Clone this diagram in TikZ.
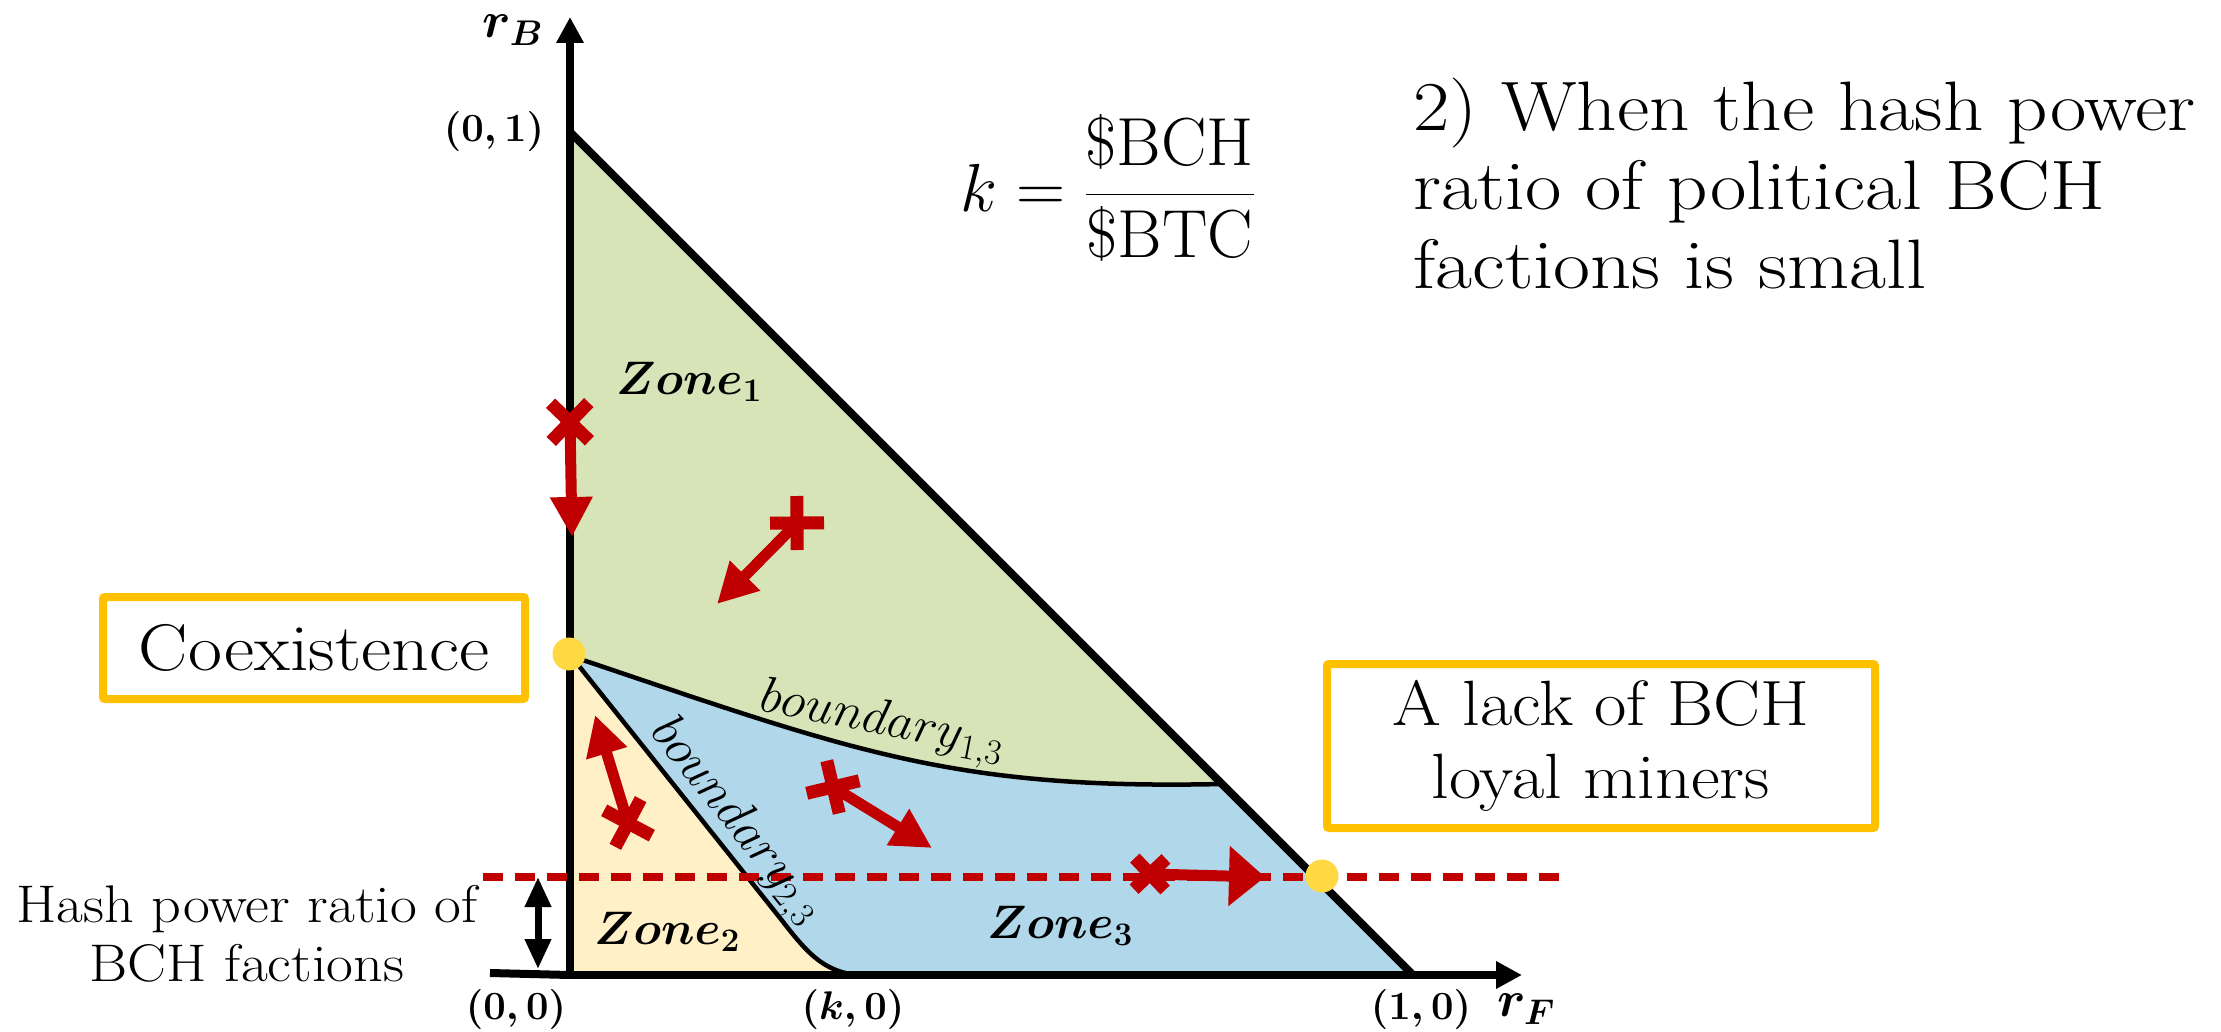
\RequirePackage{fix-cm}
\documentclass[tikz,border=0pt]{standalone}
\usepackage{amsmath}
\usepackage{graphicx}
\usepackage{fontspec}
\usetikzlibrary{arrows.meta,calc}
\definecolor{zgreen}{HTML}{D6E4B7}
\definecolor{zyellow}{HTML}{FFF0C8}
\definecolor{zblue}{HTML}{B0D7EA}
\definecolor{darkred}{HTML}{C00000}
\definecolor{gold}{HTML}{FFC000}
\definecolor{dotyellow}{HTML}{FFD942}
\newcommand{\wx}[2][1.12]{\scalebox{#1}[1]{#2}}
\begin{document}
\begin{tikzpicture}[x=1pt,y=-1pt,
  axisline/.style={line width=8pt,-{Triangle[length=26pt,width=26pt]}},
  edgeline/.style={line width=8pt},
  bound/.style={line width=4.5pt},
  redarrow/.style={draw=darkred,line width=11pt,-{Triangle[length=40pt,width=40pt]}},
  crossbar/.style={draw=darkred,line width=13pt},
  ydot/.style={circle,fill=dotyellow,minimum size=33pt,inner sep=0pt},
  callout/.style={draw=gold,line width=8pt,rounded corners=2pt,fill=white,align=center,inner sep=0pt},
  coordlbl/.style={font=\fontsize{40}{44}\selectfont,inner sep=0pt},
  axislbl/.style={font=\fontsize{51}{55}\selectfont,inner sep=0pt},
  zonelbl/.style={font=\fontsize{47}{51}\selectfont,inner sep=0pt},
  boundlbl/.style={font=\fontsize{51}{55}\selectfont,inner sep=0pt}
]
\useasboundingbox (0,0) rectangle (2221,1032);
% key points
\coordinate (V) at (570,132);
\coordinate (O) at (570,975);
\coordinate (F) at (1413,975);
\coordinate (C) at (571,656);
\coordinate (E) at (1222,784);
\coordinate (B) at (780,918);
\coordinate (K) at (858,975);
\coordinate (XL) at (490,973);
\coordinate (XR) at (1522,975);
\coordinate (YB) at (570,975);
\coordinate (YT) at (570,17);
\coordinate (DL) at (483,877);
\coordinate (DR) at (1562,877);
% zones
\fill[zblue] (V) -- (F) -- (O) -- cycle;
\fill[zgreen] (V) -- (E) .. controls (950,790) and (850,750) .. (C) -- cycle;
\fill[zyellow] (C) -- (B) .. controls (805,950) and (822,972) .. (K) -- (O) -- cycle;
% boundaries
\draw[bound] (C) .. controls (850,750) and (950,790) .. (E);
\draw[bound] (C) -- (B) .. controls (805,950) and (822,972) .. (K);
\draw[edgeline] (V) -- (F);
% axes
\coordinate (XM) at (570,975);
\draw[line width=8pt] (XL) -- (XM);
\draw[axisline] (XM) -- (XR);
\draw[axisline] (YB) -- (YT);
% dashed level line
\draw[darkred,line width=8pt,dash pattern=on 20pt off 12pt] (DL) -- (DR);
% double arrow
\coordinate (HA) at (538,877);
\coordinate (HB) at (538,969);
\draw[line width=7pt,{Triangle[length=30pt,width=25pt]}-{Triangle[length=30pt,width=25pt]}] (HA) -- (HB);
% red arrows
\coordinate (s1) at (570,422); \coordinate (t1) at (572,537);
\coordinate (s2) at (797,523); \coordinate (t2) at (717,604);
\coordinate (s3) at (628,823); \coordinate (t3) at (595,715);
\coordinate (s4) at (833,787); \coordinate (t4) at (932,848);
\coordinate (s5) at (1150,874); \coordinate (t5) at (1265,877);
\draw[redarrow] (s1) -- (t1);
\draw[redarrow] (s2) -- (t2);
\draw[redarrow] (s3) -- (t3);
\draw[redarrow] (s4) -- (t4);
\draw[redarrow,-{Triangle[length=36pt,width=58pt]}] (s5) -- (t5);
\draw[crossbar] ($(s1)!27pt!45:(t1)$) -- ($(s1)!-27pt!45:(t1)$);
\draw[crossbar] ($(s1)!27pt!-45:(t1)$) -- ($(s1)!-27pt!-45:(t1)$);
\draw[crossbar] ($(s2)!27pt!45:(t2)$) -- ($(s2)!-27pt!45:(t2)$);
\draw[crossbar] ($(s2)!27pt!-45:(t2)$) -- ($(s2)!-27pt!-45:(t2)$);
\draw[crossbar] ($(s3)!27pt!45:(t3)$) -- ($(s3)!-27pt!45:(t3)$);
\draw[crossbar] ($(s3)!27pt!-45:(t3)$) -- ($(s3)!-27pt!-45:(t3)$);
\draw[crossbar] ($(s4)!27pt!45:(t4)$) -- ($(s4)!-27pt!45:(t4)$);
\draw[crossbar] ($(s4)!27pt!-45:(t4)$) -- ($(s4)!-27pt!-45:(t4)$);
\draw[crossbar] ($(s5)!22pt!45:(t5)$) -- ($(s5)!-22pt!45:(t5)$);
\draw[crossbar] ($(s5)!22pt!-45:(t5)$) -- ($(s5)!-22pt!-45:(t5)$);
% yellow dots
\node[ydot] (coexdot) at (569,654) {};
\node[ydot] (lackdot) at (1322,876) {};
% zone and boundary labels
\node[zonelbl] (z1) at (689,382) {$\boldsymbol{Zone_1}$};
\node[zonelbl] (z2) at (667,932) {$\boldsymbol{Zone_2}$};
\node[zonelbl] (z3) at (1060,926) {$\boldsymbol{Zone_3}$};
\node[boundlbl,rotate=-11] (b13) at (882,724) {$boundary_{1,3}$};
\node[boundlbl,rotate=-51] (b23) at (735,822) {$boundary_{2,3}$};
% axis labels
\node[axislbl] (rB) at (513,30) {$\boldsymbol{r_B}$};
\node[axislbl] (rF) at (1526,1009) {$\boldsymbol{r_F}$};
\node[coordlbl] (p01) at (494,132) {$\boldsymbol{(0,1)}$};
\node[coordlbl] (p00) at (516,1009) {$\boldsymbol{(0,0)}$};
\node[coordlbl] (pk0) at (853,1009) {$\boldsymbol{(k,0)}$};
\node[coordlbl] (p10) at (1421,1009) {$\boldsymbol{(1,0)}$};
% formula and title
\node[font=\fontsize{68}{74}\selectfont,inner sep=0pt] (kform) at (1108,188) {$k=\dfrac{\$\mathrm{BCH}}{\$\mathrm{BTC}}$};
\node[font=\fontsize{70}{79}\selectfont,align=left,anchor=north west,inner sep=0pt] (title) at (1413,78) {\wx[1.13]{2) When the hash power}\\\wx[1.13]{ratio of political BCH}\\\wx[1.15]{factions is small}};
% callouts
\node[callout,font=\fontsize{66}{73}\selectfont,minimum width=422pt,minimum height=102pt] (coex) at (314,648) {\wx{Coexistence}};
\node[callout,font=\fontsize{64}{73}\selectfont,minimum width=548pt,minimum height=164pt] (lack) at (1601,746) {\wx[1.1]{A lack of BCH}\\\wx[1.1]{loyal miners}};
\node[font=\fontsize{53}{59}\selectfont,align=center,inner sep=0pt] (hash) at (247,934) {\wx[1.1]{Hash power ratio of}\\\wx[1.1]{BCH factions}};
\end{tikzpicture}
\end{document}
